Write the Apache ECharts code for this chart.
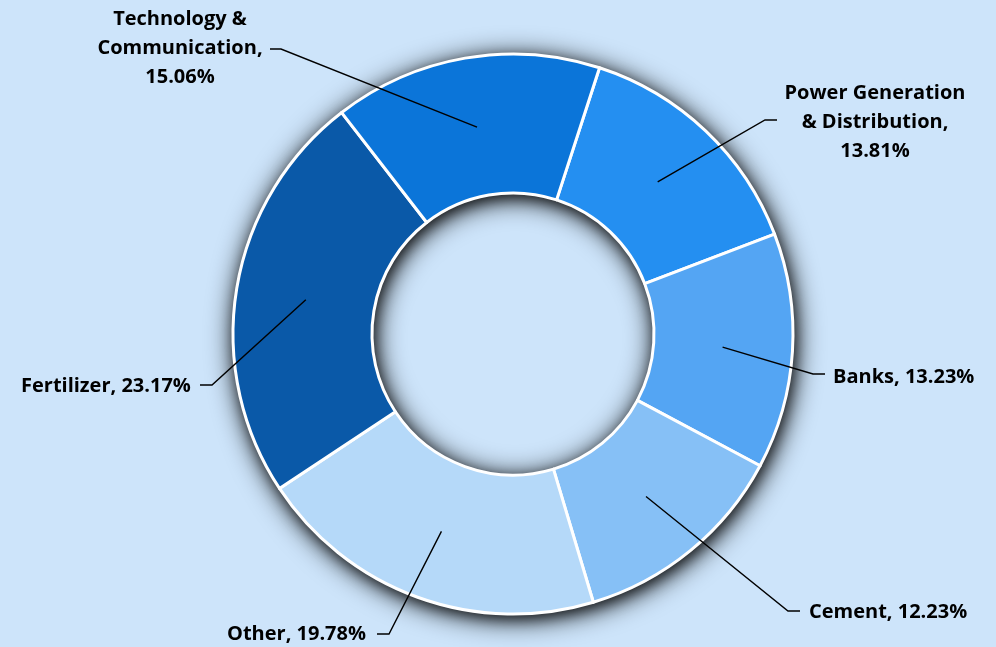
<!DOCTYPE html>
<html>
<head>
<meta charset="utf-8">
<script src="https://cdn.jsdelivr.net/npm/echarts@6/dist/echarts.min.js"></script>
<style>
html,body{margin:0;padding:0;background:#cde4fa;}
#chart{width:996px;height:647px;}
</style>
</head>
<body>
<div id="chart"></div>
<script>
// ---- data ----
const categories = ['Power Generation\n& Distribution', 'Banks', 'Cement', 'Other', 'Fertilizer', 'Technology &\nCommunication'];
const values = [13.81, 13.23, 12.23, 19.78, 23.17, 15.06];

// ---- styles / layout ----
const colors = ['#248ff1', '#54a5f3', '#86c0f6', '#b5d9f9', '#0a59a8', '#0b75d9'];
const labelAnchors = [[875, 122, 'center'], [833, 377, 'left'], [809, 612, 'left'], [227, 634, 'left'], [21, 386, 'left'], [180, 48, 'center']];
const labelBends = [[765, 120], [813, 374], [788, 611], [389, 634], [212, 385], [281, 49]];
const labelEnds = [[777, 120], [825, 374], [800, 611], [377, 634], [200, 385], [270, 49]];

const center = [513, 334];
const data = categories.map((c, i) => ({ name: c, value: values[i], itemStyle: { color: colors[i] } }));

const shadowRing = (blur, alpha, z) => ({
  type: 'pie', silent: true, center: center, radius: [141, 280],
  label: { show: false }, labelLine: { show: false },
  emphasis: { disabled: true },
  itemStyle: { color: '#cde4fa', shadowBlur: blur, shadowColor: 'rgba(0,0,0,' + alpha + ')', shadowOffsetY: 4, shadowOffsetX: 2 },
  data: [{ value: 1 }], z: z
});

const chart = echarts.init(document.getElementById('chart'));
chart.setOption({
  backgroundColor: '#cde4fa',
  animation: false,
  series: [
    shadowRing(28, 1, 1),
    shadowRing(14, 0.6, 1),
    {
      type: 'pie', silent: true, center: center, radius: [141, 280], startAngle: 72, clockwise: true,
      label: { show: false }, labelLine: { show: false },
      itemStyle: { borderColor: '#ffffff', borderWidth: 3 },
      emphasis: { disabled: true },
      data: data, z: 2
    },
    {
      type: 'pie', silent: true, center: center, radius: [0, 210], startAngle: 72, clockwise: true,
      avoidLabelOverlap: false,
      itemStyle: { color: 'rgba(0,0,0,0)', borderWidth: 0 },
      emphasis: { disabled: true },
      label: {
        show: true, position: 'outside',
        fontFamily: 'Open Sans', fontWeight: 'bold', fontSize: 20, color: '#000', lineHeight: 29,
        formatter: p => p.name.indexOf('\n') >= 0 ? p.name + ',\n' + p.value.toFixed(2) + '%' : p.name + ', ' + p.value.toFixed(2) + '%'
      },
      labelLine: { show: true, length: 20, length2: 10, lineStyle: { color: '#000', width: 1.4 } },
      labelLayout: function (params) {
        const i = params.dataIndex;
        const a = labelAnchors[i];
        const start = params.labelLinePoints ? params.labelLinePoints[0] : labelBends[i];
        return {
          x: a[0], y: a[1], align: a[2], verticalAlign: 'middle',
          labelLinePoints: [start, labelBends[i], labelEnds[i]]
        };
      },
      data: data.map(d => ({ name: d.name, value: d.value })), z: 3
    }
  ]
});
</script>
</body>
</html>
